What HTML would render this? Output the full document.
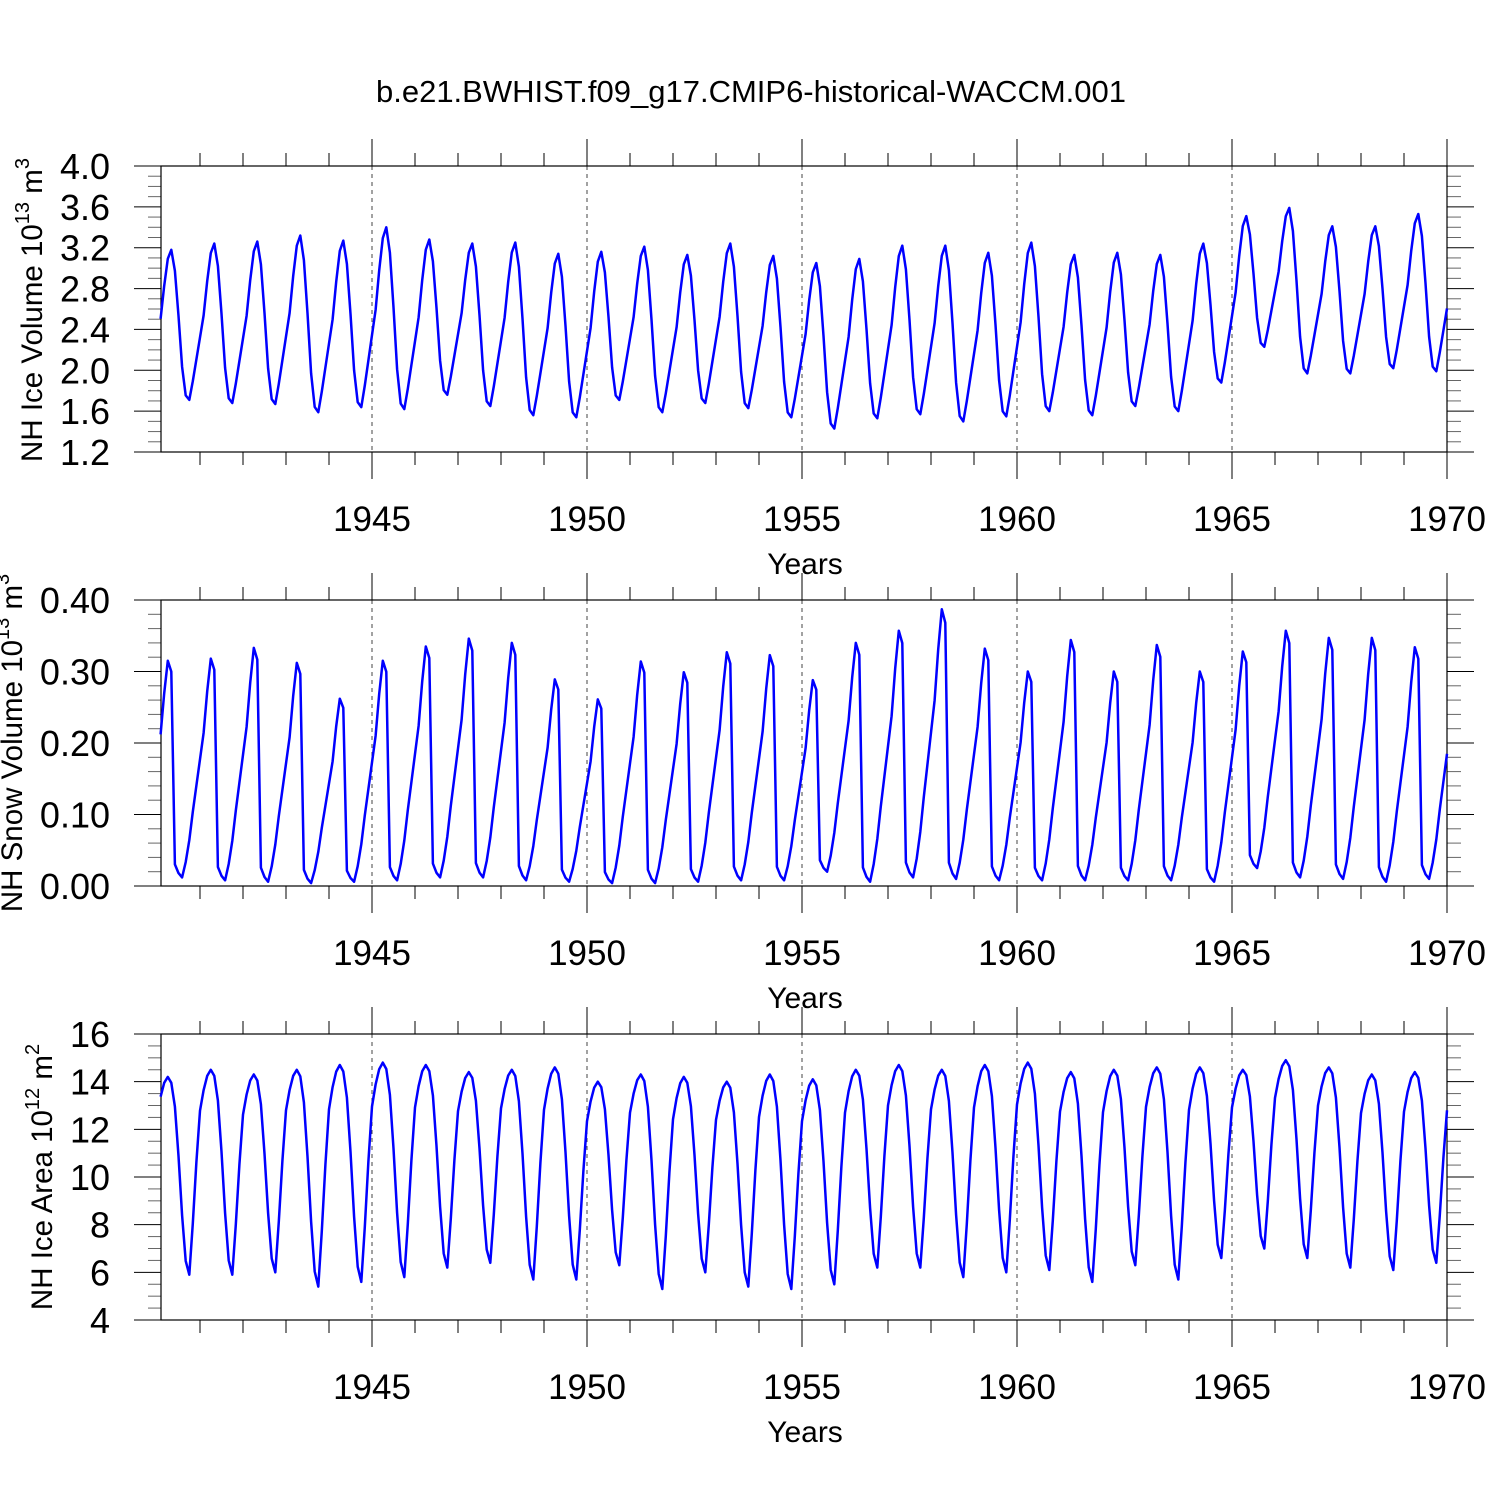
<!DOCTYPE html>
<html><head><meta charset="utf-8"><style>
html,body{margin:0;padding:0;background:#fff}
svg{display:block}
text{font-family:"Liberation Sans",Arial,sans-serif;fill:#000}
</style></head><body>
<svg id="chart" width="1500" height="1500" viewBox="0 0 1500 1500" xmlns="http://www.w3.org/2000/svg">
<rect width="1500" height="1500" fill="#fff"/>
<text x="751" y="102" font-size="31" text-anchor="middle">b.e21.BWHIST.f09_g17.CMIP6-historical-WACCM.001</text>
</svg>
<script>
// ---- data ----
const years = [1940,1941,1942,1943,1944,1945,1946,1947,1948,1949,1950,1951,1952,1953,1954,1955,1956,1957,1958,1959,1960,1961,1962,1963,1964,1965,1966,1967,1968,1969];
const xTickLabels = ["1945","1950","1955","1960","1965","1970"];
const iceVolMax = [3.18,3.24,3.26,3.32,3.27,3.40,3.28,3.24,3.25,3.14,3.16,3.21,3.13,3.24,3.12,3.05,3.09,3.22,3.22,3.15,3.25,3.13,3.15,3.13,3.24,3.51,3.59,3.41,3.41,3.53];
const iceVolMin = [1.71,1.68,1.67,1.59,1.64,1.62,1.76,1.65,1.56,1.54,1.71,1.59,1.68,1.63,1.54,1.43,1.53,1.57,1.50,1.55,1.60,1.56,1.65,1.60,1.88,2.23,1.97,1.97,2.02,1.99];
const iceVolShape = [0.54,0.76,0.94,1.0,0.86,0.56,0.22,0.03,0.0,0.12,0.26,0.40];
const snowMax = [0.315,0.318,0.333,0.312,0.262,0.315,0.335,0.346,0.340,0.289,0.261,0.314,0.299,0.327,0.323,0.288,0.340,0.357,0.387,0.332,0.300,0.344,0.300,0.337,0.300,0.328,0.357,0.347,0.347,0.334];
const snowMin = [0.012,0.008,0.006,0.004,0.006,0.008,0.012,0.012,0.008,0.006,0.004,0.004,0.006,0.008,0.008,0.02,0.006,0.012,0.01,0.008,0.008,0.008,0.008,0.008,0.006,0.025,0.012,0.01,0.006,0.01];
const snowShape = [0.66,0.85,1.0,0.95,0.06,0.02,0.0,0.07,0.17,0.3,0.42,0.54];
const areaMax = [14.2,14.5,14.3,14.5,14.7,14.8,14.7,14.4,14.5,14.6,14.0,14.3,14.2,14.0,14.3,14.1,14.5,14.7,14.5,14.7,14.8,14.4,14.5,14.6,14.6,14.5,14.9,14.6,14.3,14.4];
const areaMin = [5.9,5.9,6.0,5.4,5.6,5.8,6.2,6.4,5.7,5.7,6.3,5.3,6.0,5.4,5.3,5.5,6.2,6.2,5.8,6.0,6.1,5.6,6.3,5.7,6.6,7.0,6.6,6.2,6.1,6.4];
const areaShape = [0.9,0.97,1.0,0.97,0.85,0.6,0.3,0.07,0.0,0.25,0.55,0.8];

const NS="http://www.w3.org/2000/svg";
const svg=document.getElementById('chart');
function mk(tag,attrs,parent){const e=document.createElementNS(NS,tag);for(const k in attrs)e.setAttribute(k,attrs[k]);(parent||svg).appendChild(e);return e;}
const X0=161,X1=1447;
function xs(t){return 372+(t-1945)*43;}

const panels=[
 {name:'ice-volume',top:166,bot:452,ymin:1.2,ymax:4.0,major:0.4,minorN:4,dec:1,mx:iceVolMax,mn:iceVolMin,sh:iceVolShape,
  label:['NH Ice Volume 10','13',' m','3'],lx:42,ly:310},
 {name:'snow-volume',top:600,bot:886,ymin:0,ymax:0.4,major:0.1,minorN:5,dec:2,mx:snowMax,mn:snowMin,sh:snowShape,
  label:['NH Snow Volume 10','13',' m','3'],lx:22,ly:743},
 {name:'ice-area',top:1034,bot:1320,ymin:4,ymax:16,major:2,minorN:4,dec:0,mx:areaMax,mn:areaMin,sh:areaShape,
  label:['NH Ice Area 10','12',' m','2'],lx:52,ly:1177}
];

panels.forEach(p=>{
 const g=mk('g',{});
 
 
 const ys=v=>p.bot-(v-p.ymin)/(p.ymax-p.ymin)*(p.bot-p.top);
 xTickLabels.forEach(l=>{const x=xs(+l);if(x<X1-1){const gl=mk('line',{x1:x,x2:x,y1:p.top,y2:p.bot,stroke:'#444','stroke-width':1,'stroke-dasharray':'4,4'},g);
  }});
 for(let y=1941;y<=1970;y++){const x=xs(y);const L=(y%5===0)?27:13;
  mk('line',{x1:x,x2:x,y1:p.top-L,y2:p.top,stroke:'#000','stroke-width':1},g);
  mk('line',{x1:x,x2:x,y1:p.bot,y2:p.bot+L,stroke:'#000','stroke-width':1},g);}
 const nMaj=Math.round((p.ymax-p.ymin)/p.major);
 for(let i=0;i<=nMaj;i++){const v=p.ymin+i*p.major;const y=ys(v);
  mk('line',{x1:X0-27,x2:X0,y1:y,y2:y,stroke:'#000','stroke-width':1},g);
  mk('line',{x1:X1,x2:X1+27,y1:y,y2:y,stroke:'#000','stroke-width':1},g);
  const t=mk('text',{x:110,y:y+13,'font-size':36,'text-anchor':'end'},g);
  
  t.textContent=v.toFixed(p.dec);
  if(i<nMaj){for(let k=1;k<p.minorN;k++){const ym=ys(v+k*p.major/p.minorN);
   mk('line',{x1:X0-13,x2:X0,y1:ym,y2:ym,stroke:'#666','stroke-width':1},g);
   mk('line',{x1:X1,x2:X1+14,y1:ym,y2:ym,stroke:'#666','stroke-width':1},g);}}
 }
 const fr=mk('rect',{x:X0,y:p.top,width:X1-X0,height:p.bot-p.top,fill:'none',stroke:'#000','stroke-width':1.2},g);
 
 xTickLabels.forEach(l=>{const t=mk('text',{x:xs(+l),y:p.bot+79,'font-size':35,'text-anchor':'middle'},g);
  t.textContent=l;});
 const xt=mk('text',{x:805,y:p.bot+122,'font-size':30,'text-anchor':'middle'},g);
 xt.textContent='Years';
 const yt=mk('text',{x:0,y:0,'font-size':29.5,'text-anchor':'middle',transform:`translate(${p.lx},${p.ly}) rotate(-90)`},g);
 
 const parts=p.label;
 [[parts[0],0],[parts[1],1],[parts[2],0],[parts[3],1]].forEach(([s,sup],idx)=>{const ts=mk('tspan',sup?{'font-size':20,dy:-13}:{dy:idx===2?13:0},yt);ts.textContent=s;});
 const pk=p.sh.indexOf(Math.max(...p.sh)), tr=p.sh.indexOf(Math.min(...p.sh));
 let d='';
 years.forEach((yr,yi)=>{p.sh.forEach((s,m)=>{
  let hi=p.mx[yi], lo=p.mn[yi];
  if(m<pk) lo=p.mn[Math.max(0,yi-1)];
  if(m>tr) hi=p.mx[Math.min(years.length-1,yi+1)];
  const v=lo+s*(hi-lo);
  const t=yr+(m+1)/12;d+=(d?'L':'M')+xs(t).toFixed(1)+','+ys(v).toFixed(1);});});
 const ln=mk('path',{d:d,fill:'none',stroke:'#0000ff','stroke-width':2.5,'stroke-linejoin':'round'},g);
 
 
});
</script>
</body></html>
